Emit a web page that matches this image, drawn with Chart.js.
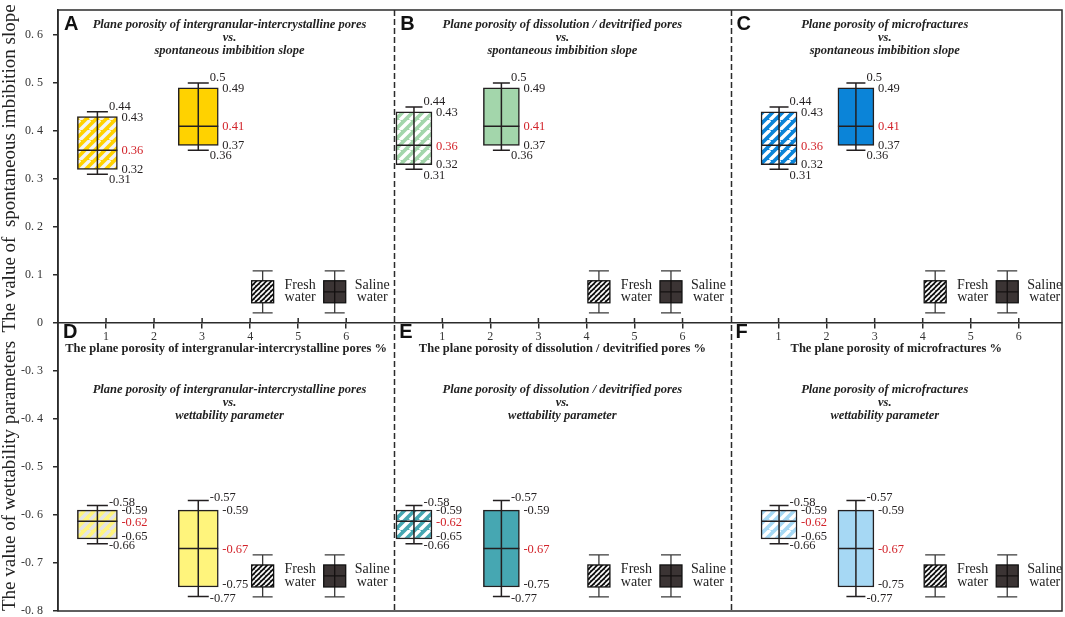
<!DOCTYPE html>
<html><head><meta charset="utf-8">
<script src="https://cdn.jsdelivr.net/npm/chart.js@4.4.1/dist/chart.umd.min.js"></script>
<style>
html,body{margin:0;padding:0;background:#fff;}
canvas{display:block;}
</style></head>
<body>
<canvas id="chart" width="1065" height="617"></canvas>
<script>
// ---------------- data ----------------
const xTickLabels = ['1', '2', '3', '4', '5', '6'];
const yTickValues = [0.6, 0.5, 0.4, 0.3, 0.2, 0.1, 0, -0.3, -0.4, -0.5, -0.6, -0.7, -0.8];
const panelLetters = [['A', 'B', 'C'], ['D', 'E', 'F']];
const poreTypes = ['intergranular-intercrystalline pores', 'dissolution / devitrified pores', 'microfractures'];
const waterTypes = ['Fresh water', 'Saline water'];
const rowParameters = ['spontaneous imbibition slope', 'wettability parameter'];
const slopeAxisTitle = 'The value of  spontaneous imbibition slope';
const wetAxisTitle = 'The value of wettability parameters';

// position of each box on its panel's plane-porosity axis (%)
const freshPorosity = [0.82, 0.41, 1.01];
const salinePorosity = [2.92, 2.23, 2.61];

// [min, q1, median, q3, max]
const slopeFresh = [[0.31, 0.32, 0.36, 0.43, 0.44], [0.32, 0.33, 0.37, 0.44, 0.45], [0.32, 0.33, 0.37, 0.44, 0.45]];
const slopeSaline = [[0.36, 0.37, 0.41, 0.49, 0.50], [0.36, 0.37, 0.41, 0.49, 0.50], [0.36, 0.37, 0.41, 0.49, 0.50]];
const wetFresh = [[-0.66, -0.65, -0.613, -0.59, -0.58], [-0.66, -0.65, -0.613, -0.59, -0.58], [-0.66, -0.65, -0.613, -0.59, -0.58]];
const wetSaline = [[-0.77, -0.75, -0.67, -0.59, -0.57], [-0.77, -0.75, -0.67, -0.59, -0.57], [-0.77, -0.75, -0.67, -0.59, -0.57]];

// printed value labels [min, q1, median, q3, max]
const slopeFreshText = ['0.31', '0.32', '0.36', '0.43', '0.44'];
const slopeSalineText = ['0.36', '0.37', '0.41', '0.49', '0.5'];
const wetFreshText = ['-0.66', '-0.65', '-0.62', '-0.59', '-0.58'];
const wetSalineText = ['-0.77', '-0.75', '-0.67', '-0.59', '-0.57'];

// ---------------- layout / style ----------------
const PANEL_SPAN = 7;      // porosity units per panel on the shared x axis
const X_MAX = 20.9;
const GAP = 0.2;           // hidden band (-0.2 .. 0) of the wettability axis
const SERIF = "'Liberation Serif', 'Times New Roman', serif";
const SANS = "'Liberation Sans', Arial, sans-serif";
const INK = '#231f20';
const RED = '#d2232a';
const fillColors = [['#ffd200', '#a3d6ab', '#0b84d8'], ['#fff47c', '#46a7b2', '#a6d8f4']];
const stripeColors = [['#f4f4f4', '#ffffff', '#ffffff'], ['#e4e4e4', '#ffffff', '#ffffff']];
const boxWidths = [40, 36, 36];
const capHalf = [10.5, 8.5, 9.5];
const titleCenters = [3.57, 3.5, 3.21];
const xTitleCenters = [3.5, 3.5, 3.45];
const legendCenters = [0.065, -0.727];
const legendX = [4.26, 5.76];
const labelDy = [{max: -5, min: 6, q1: 0}, {max: -3, min: 2, q1: -2}];

Chart.defaults.font.family = SERIF;

function stripes(base, stripe, period, lw) {
  const c = document.createElement('canvas');
  c.width = c.height = period;
  const g = c.getContext('2d');
  g.fillStyle = base; g.fillRect(0, 0, period, period);
  g.strokeStyle = stripe; g.lineWidth = lw;
  g.beginPath();
  for (let k = -1; k <= 1; k++) { g.moveTo(k * period, period); g.lineTo(k * period + period, 0); }
  g.stroke();
  return g.createPattern(c, 'repeat');
}

// linear axis with a hidden band between -0.2 and 0 (broken axis)
class BrokenLinearScale extends Chart.LinearScale {
  static id = 'brokenLinear';
  static defaults = Chart.LinearScale.defaults;
  determineDataLimits() {
    super.determineDataLimits();
    if (this.min < 0) this.min += GAP;
  }
  buildTicks() { return yTickValues.map(v => ({value: v})); }
  getPixelForValue(v) { return super.getPixelForValue(v < 0 ? v + GAP : v); }
  getValueForPixel(p) { const v = super.getValueForPixel(p); return v < 0 ? v - GAP : v; }
}
Chart.register(BrokenLinearScale);

const datasets = [];
function boxDataset(row, col, kind, x, stats, text) {
  const fill = kind === 0 ? stripes(fillColors[row][col], stripeColors[row][col], 10, 3.4) : fillColors[row][col];
  return {
    type: 'bar', label: waterTypes[kind],
    data: [{x: col * PANEL_SPAN + x, y: [stats[1], stats[3]]}],
    backgroundColor: fill, borderColor: INK, borderWidth: 1.5, borderSkipped: false,
    grouped: false, barPercentage: 1, categoryPercentage: 1, maxBarThickness: boxWidths[col],
    stats, text, row, col
  };
}
for (let c = 0; c < 3; c++) {
  datasets.push(boxDataset(0, c, 0, freshPorosity[c], slopeFresh[c], slopeFreshText));
  datasets.push(boxDataset(0, c, 1, salinePorosity[c], slopeSaline[c], slopeSalineText));
  datasets.push(boxDataset(1, c, 0, freshPorosity[c], wetFresh[c], wetFreshText));
  datasets.push(boxDataset(1, c, 1, salinePorosity[c], wetSaline[c], wetSalineText));
}

const decor = {
  id: 'decor',
  afterDatasetsDraw(chart) {
    const ctx = chart.ctx, ys = chart.scales.y;
    chart.data.datasets.forEach((ds, i) => {
      const el = chart.getDatasetMeta(i).data[0];
      const [mn, q1, md, q3, mx] = ds.stats;
      const x = el.x, hw = el.width / 2, cap = capHalf[ds.col];
      const pMin = ys.getPixelForValue(mn), pQ1 = ys.getPixelForValue(q1), pMd = ys.getPixelForValue(md),
            pQ3 = ys.getPixelForValue(q3), pMax = ys.getPixelForValue(mx);
      ctx.save();
      ctx.strokeStyle = INK; ctx.lineWidth = 1.5;
      ctx.beginPath();
      ctx.moveTo(x, pMax); ctx.lineTo(x, pMin);
      ctx.moveTo(x - cap, pMax); ctx.lineTo(x + cap, pMax);
      ctx.moveTo(x - cap, pMin); ctx.lineTo(x + cap, pMin);
      ctx.moveTo(x - hw, pMd); ctx.lineTo(x + hw, pMd);
      ctx.stroke();
      ctx.font = '12.5px ' + SERIF;
      ctx.textAlign = 'left'; ctx.textBaseline = 'middle';
      const d = labelDy[ds.row];
      ctx.fillStyle = INK;
      ctx.fillText(ds.text[4], x + cap + 1, pMax + d.max);
      ctx.fillText(ds.text[3], x + hw + 4, pQ3 + 1);
      ctx.fillText(ds.text[1], x + hw + 4, pQ1 + d.q1);
      ctx.fillText(ds.text[0], x + cap + 1, pMin + d.min);
      ctx.fillStyle = RED;
      ctx.fillText(ds.text[2], x + hw + 4, pMd + 1);
      ctx.restore();
    });
  },
  afterDraw(chart) {
    const ctx = chart.ctx, xs = chart.scales.x, ys = chart.scales.y, a = chart.chartArea;
    const y0 = ys.getPixelForValue(0);
    ctx.save();
    // frame
    ctx.strokeStyle = '#2b2b2b'; ctx.lineWidth = 1.5;
    ctx.strokeRect(a.left, a.top, a.right - a.left, a.bottom - a.top);
    // dashed panel dividers
    ctx.setLineDash([6, 3]);
    ctx.beginPath();
    for (let c = 1; c < 3; c++) {
      const px = Math.round(xs.getPixelForValue(c * PANEL_SPAN)) + 0.5;
      ctx.moveTo(px, a.top); ctx.lineTo(px, a.bottom);
    }
    ctx.stroke();
    ctx.setLineDash([]);
    // upper half of crossing x ticks
    ctx.beginPath();
    xs.ticks.forEach((t, i) => { const px = xs.getPixelForTick(i); ctx.moveTo(px, y0 - 5); ctx.lineTo(px, y0); });
    ctx.stroke();

    // y-axis titles
    ctx.fillStyle = '#222';
    ctx.font = '19px ' + SERIF;
    ctx.textAlign = 'center'; ctx.textBaseline = 'middle';
    ctx.save(); ctx.translate(10, (a.top + y0) / 2 + 2); ctx.rotate(-Math.PI / 2); ctx.fillText(slopeAxisTitle, 0, 0); ctx.restore();
    ctx.save(); ctx.translate(10, 476); ctx.rotate(-Math.PI / 2); ctx.fillText(wetAxisTitle, 0, 0); ctx.restore();

    for (let c = 0; c < 3; c++) {
      const left = xs.getPixelForValue(c * PANEL_SPAN);
      // panel letters
      ctx.fillStyle = '#111'; ctx.font = 'bold 20px ' + SANS; ctx.textAlign = 'left'; ctx.textBaseline = 'middle';
      ctx.fillText(panelLetters[0][c], left + 6, a.top + 14);
      ctx.fillText(panelLetters[1][c], left + 5, y0 + 9.5);
      // panel titles
      const tx = xs.getPixelForValue(c * PANEL_SPAN + titleCenters[c]);
      ctx.fillStyle = '#222'; ctx.font = 'italic bold 12.5px ' + SERIF; ctx.textAlign = 'center';
      for (let r = 0; r < 2; r++) {
        const ty = r === 0 ? a.top + 15 : y0 + 67;
        ctx.fillText('Plane porosity of ' + poreTypes[c], tx, ty);
        ctx.fillText('vs.', tx, ty + 13);
        ctx.fillText(rowParameters[r], tx, ty + 26);
      }
      // x-axis titles
      ctx.font = 'bold 12.5px ' + SERIF;
      ctx.fillText('The plane porosity of ' + poreTypes[c] + ' %', xs.getPixelForValue(c * PANEL_SPAN + xTitleCenters[c]), y0 + 26);
      // legends
      for (let r = 0; r < 2; r++) {
        const cy = ys.getPixelForValue(legendCenters[r]);
        for (let k = 0; k < 2; k++) {
          const cx = xs.getPixelForValue(c * PANEL_SPAN + legendX[k]);
          ctx.strokeStyle = '#3a3a3a'; ctx.lineWidth = 1.3;
          ctx.beginPath();
          ctx.moveTo(cx, cy - 21); ctx.lineTo(cx, cy + 21);
          ctx.moveTo(cx - 10, cy - 21); ctx.lineTo(cx + 10, cy - 21);
          ctx.moveTo(cx - 10, cy + 21); ctx.lineTo(cx + 10, cy + 21);
          ctx.stroke();
          ctx.fillStyle = k === 0 ? stripes('#111', '#ffffff', 5, 1.7) : '#3b3434';
          ctx.fillRect(cx - 11, cy - 11, 22, 22);
          ctx.strokeStyle = '#111'; ctx.lineWidth = 1.3;
          ctx.strokeRect(cx - 11, cy - 11, 22, 22);
          if (k === 1) {
            ctx.beginPath(); ctx.moveTo(cx - 11, cy); ctx.lineTo(cx + 11, cy); ctx.moveTo(cx, cy - 11); ctx.lineTo(cx, cy + 11);
            ctx.strokeStyle = '#141010'; ctx.stroke();
          }
          const words = waterTypes[k].split(' ');
          ctx.fillStyle = '#222'; ctx.font = '14px ' + SERIF; ctx.textAlign = 'center'; ctx.textBaseline = 'middle';
          ctx.fillText(words[0], cx + 37.5, cy - 6.5);
          ctx.fillText(words[1], cx + 37.5, cy + 6);
        }
      }
    }
    ctx.restore();
  }
};

new Chart(document.getElementById('chart'), {
  type: 'bar',
  data: {datasets},
  options: {
    responsive: false, animation: false,
    layout: {padding: {top: 10, right: 3, bottom: 6, left: 0}},
    plugins: {legend: {display: false}, tooltip: {enabled: false}},
    scales: {
      x: {
        type: 'linear', min: 0, max: X_MAX, position: {y: 0}, offset: false,
        afterBuildTicks: s => {
          const t = [];
          for (let c = 0; c < 3; c++) xTickLabels.forEach((_, i) => t.push({value: c * PANEL_SPAN + i + 1}));
          s.ticks = t;
        },
        afterFit: s => { s.paddingLeft = 0; s.paddingRight = 0; },
        ticks: {autoSkip: false, maxRotation: 0, padding: 2, color: '#333', font: {size: 12},
          callback: v => xTickLabels[Math.round(v) % PANEL_SPAN - 1]},
        grid: {offset: false, drawOnChartArea: false, tickLength: 5, color: '#2b2b2b', lineWidth: 1.5},
        border: {color: '#2b2b2b', width: 1.5}
      },
      y: {
        type: 'brokenLinear', min: -0.8, max: 0.652,
        afterFit: s => { s.width = 58; s.paddingTop = 0; s.paddingBottom = 0; },
        ticks: {autoSkip: false, padding: 10, color: '#333', font: {size: 12},
          callback: v => v === 0 ? '0' : v.toFixed(1).replace('.', '. ')},
        grid: {drawOnChartArea: false, tickLength: 5, color: '#2b2b2b', lineWidth: 1.5},
        border: {color: '#2b2b2b', width: 1.5}
      }
    }
  },
  plugins: [decor]
});
</script>
</body></html>
